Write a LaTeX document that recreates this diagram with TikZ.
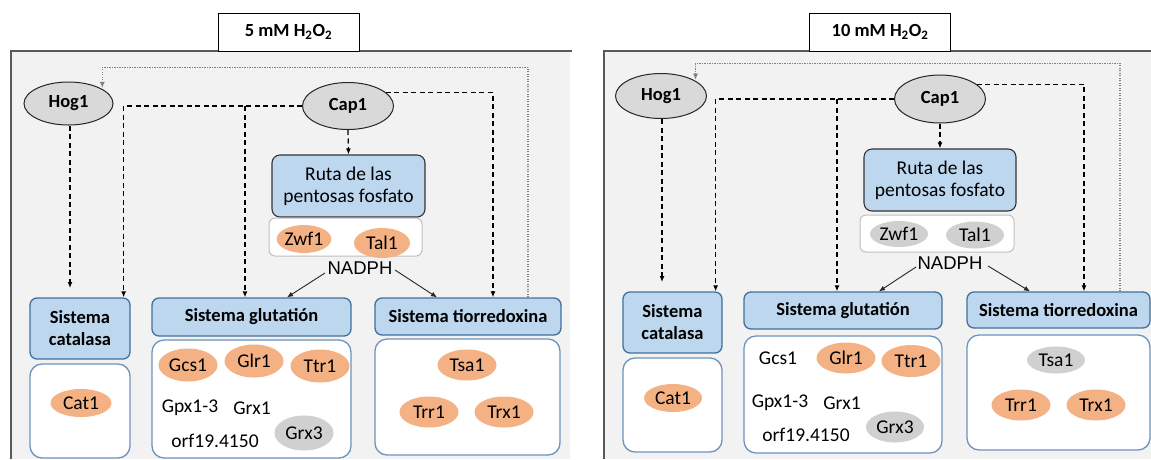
\documentclass[tikz,border=0pt]{standalone}
\usepackage{fontspec}
\setmainfont{Carlito}
\newfontfamily\arialf{Liberation Sans}
\usetikzlibrary{shapes.geometric,arrows.meta}
\definecolor{panelgray}{HTML}{F2F2F2}
\definecolor{panelline}{HTML}{595959}
\definecolor{bluefill}{HTML}{BDD7EE}
\definecolor{bluedark}{HTML}{41719C}
\definecolor{bluemid}{HTML}{6C93BD}
\definecolor{orangefill}{HTML}{F4B183}
\definecolor{reggray}{HTML}{D9D9D9}
\definecolor{genegray}{HTML}{D0D0D0}
\definecolor{boxgray}{HTML}{BFBFBF}
\definecolor{dotgray}{HTML}{808080}
\tikzset{
  basefont/.style={font=\fontsize{19.5}{22}\selectfont},
  boldfont/.style={font=\fontsize{18.5}{22}\selectfont\bfseries},
  titlebox/.style={draw=black, line width=1pt, fill=white, boldfont, minimum width=141pt, minimum height=38pt},
  reg/.style={ellipse, draw=black!85, line width=1pt, fill=reggray, boldfont, minimum width=90pt, minimum height=45pt},
  bluebox/.style={draw=bluedark, line width=1.3pt, fill=bluefill, rounded corners=7pt, boldfont, align=center},
  rutabox/.style={draw=black!80, line width=1.1pt, fill=bluefill, rounded corners=8pt, basefont, align=center},
  whitebox/.style={draw=bluemid, line width=1.3pt, fill=white, rounded corners=12pt},
  graybox/.style={draw=boxgray, line width=1pt, fill=white, rounded corners=6pt},
  ora/.style={ellipse, fill=orangefill, basefont, minimum width=59pt, minimum height=31pt},
  gry/.style={ellipse, fill=genegray, basefont, minimum width=58pt, minimum height=29pt},
  plain/.style={basefont},
  dasharr/.style={black, line width=1.2pt, dash pattern=on 5pt off 3.5pt, -{Latex[length=6pt,width=5pt]}},
  solarr/.style={black!85, line width=0.9pt, -{Latex[length=6pt,width=5pt]}},
  dotarr/.style={dotgray, line width=1.1pt, dash pattern=on 1.2pt off 1.3pt, -{Latex[length=6pt,width=5pt]}},
}
\begin{document}
\begin{tikzpicture}[x=1pt,y=-1pt, every node/.style={inner sep=0pt}]
\useasboundingbox (0,0) rectangle (1151,459);
% panels
\fill[panelgray] (11,51) rectangle (570,459);
\draw[panelline, line width=1.2pt] (11,459) -- (11,51) -- (572,51);
\fill[panelgray] (604,51) rectangle (1151,459);
\draw[panelline, line width=1.2pt] (604,459) -- (604,51) -- (1151,51);
\node[titlebox] (t1) at (288.5,32) {5 mM H\textsubscript{2}O\textsubscript{2}};
\node[titlebox] (t2) at (880,32) {10 mM H\textsubscript{2}O\textsubscript{2}};

% ===== left panel =====
\node[reg, minimum width=89pt, minimum height=43pt] (hogL) at (68.5,103.5) {Hog1};
\node[reg, minimum width=91pt, minimum height=47pt] (capL) at (348,106) {Cap1};
\node[rutabox, minimum width=153pt, minimum height=62pt] (rutaL) at (348.5,186) {Ruta de las\\pentosas fosfato};
\node[graybox, minimum width=153pt, minimum height=38pt] (pentL) at (345.5,237) {};
\node[ora, minimum width=50pt, minimum height=28pt] (zwfL) at (304,239) {Zwf1};
\node[ora, minimum width=56pt, minimum height=30pt] (talL) at (382,243) {Tal1};
\node[font=\arialf\fontsize{18.5}{22}\selectfont] (nadL) at (360,268) {NADPH};

\node[bluebox, minimum width=100pt, minimum height=61pt] (catBL) at (80,328.5) {Sistema\\catalasa};
\node[whitebox, minimum width=100pt, minimum height=94pt] (catWL) at (80,411) {};
\node[ora, minimum width=61pt, minimum height=28pt] (cat1L) at (81,403) {Cat1};

\node[bluebox, minimum width=199pt, minimum height=38pt] (gluBL) at (251.5,317) {Sistema glutatión};
\node[whitebox, minimum width=199pt, minimum height=118pt] (gluWL) at (251.5,399) {};
\node[ora, minimum height=33pt] (gcs1L) at (188,365) {Gcs1};
\node[ora, minimum height=33pt] (glr1L) at (254,361) {Glr1};
\node[ora, minimum height=33pt] (ttr1L) at (320,366) {Ttr1};
\node[plain] (gpxL) at (190,408) {Gpx1-3};
\node[plain] (grx1L) at (252,408) {Grx1};
\node[plain] (orfL) at (215,441) {orf19.4150};
\node[gry, minimum width=59pt, minimum height=35pt] (grx3L) at (304,433) {Grx3};

\node[bluebox, minimum width=186pt, minimum height=37pt] (tioBL) at (468,316.5) {Sistema tiorredoxina};
\node[whitebox, minimum width=185pt, minimum height=116pt] (tioWL) at (467.5,397) {};
\node[ora, minimum height=31pt] (tsa1L) at (467,365) {Tsa1};
\node[ora, minimum height=31pt] (trr1L) at (429,412) {Trr1};
\node[ora, minimum height=31pt] (trx1L) at (504,412) {Trx1};

% left connectors
\coordinate (hogEndL) at (70,288);
\draw[dasharr] (hogL.south -| hogEndL) -- (hogEndL);
\draw[dasharr] (capL.west) -| ([xshift=-7pt]catBL.north east);
\draw[dasharr] ([xshift=-6.5pt]gluBL.north |- capL.west) -- ([xshift=-6.5pt]gluBL.north);
\draw[dasharr] (capL.20) -| ([xshift=25pt]tioBL.north);
\draw[dasharr] (capL.south) -- (rutaL.north);
\draw[solarr] ([xshift=-35pt,yshift=-5pt]nadL.center) -- ([xshift=35.5pt]gluBL.north);
\draw[solarr] ([xshift=35pt,yshift=-2pt]nadL.center) -- ([xshift=-31pt]tioBL.north);
\draw[dotarr] ([xshift=60pt]tioBL.north) -- ++(0,-230) -| ([xshift=2pt]hogL.north east);

% ===== right panel =====
\node[reg, minimum width=91pt, minimum height=45pt] (hogR) at (661,96) {Hog1};
\node[reg, minimum width=91pt, minimum height=48pt] (capR) at (940,99) {Cap1};
\node[rutabox, minimum width=152pt, minimum height=62pt] (rutaR) at (940,180) {Ruta de las\\pentosas fosfato};
\node[graybox, minimum width=154pt, minimum height=37pt] (pentR) at (937,233.5) {};
\node[gry, minimum width=58pt, minimum height=26pt] (zwfR) at (899,234) {Zwf1};
\node[gry, minimum width=58pt, minimum height=27pt] (talR) at (975,235) {Tal1};
\node[font=\arialf\fontsize{18.5}{22}\selectfont] (nadR) at (950,263) {NADPH};

\node[bluebox, minimum width=99pt, minimum height=61pt] (catBR) at (672.5,322.5) {Sistema\\catalasa};
\node[whitebox, minimum width=99pt, minimum height=94pt] (catWR) at (672.5,405) {};
\node[ora, minimum width=58pt, minimum height=28pt] (cat1R) at (673,398) {Cat1};

\node[bluebox, minimum width=198pt, minimum height=37pt] (gluBR) at (843,310.5) {Sistema glutatión};
\node[whitebox, minimum width=198pt, minimum height=117pt] (gluWR) at (843,394.5) {};
\node[plain] (gcs1R) at (778,358) {Gcs1};
\node[ora, minimum height=31pt] (glr1R) at (846,358) {Glr1};
\node[ora, minimum height=32pt] (ttr1R) at (911,361) {Ttr1};
\node[plain] (gpxR) at (780,403) {Gpx1-3};
\node[plain] (grx1R) at (842,403) {Grx1};
\node[plain] (orfR) at (806,435) {orf19.4150};
\node[gry, minimum width=58pt, minimum height=31pt] (grx3R) at (895,427) {Grx3};

\node[bluebox, minimum width=183pt, minimum height=36pt] (tioBR) at (1058.5,310) {Sistema tiorredoxina};
\node[whitebox, minimum width=183pt, minimum height=115pt] (tioWR) at (1058.5,392.5) {};
\node[gry, minimum height=27pt] (tsa1R) at (1056,360) {Tsa1};
\node[ora, minimum height=31pt] (trr1R) at (1021,405) {Trr1};
\node[ora, minimum height=31pt] (trx1R) at (1096,405) {Trx1};

% right connectors
\coordinate (hogEndR) at (662,282);
\draw[dasharr] (hogR.south -| hogEndR) -- (hogEndR);
\draw[dasharr] (capR.west) -| ([xshift=-7pt]catBR.north east);
\draw[dasharr] ([xshift=-6pt]gluBR.north |- capR.west) -- ([xshift=-6pt]gluBR.north);
\draw[dasharr] (capR.22) -| ([xshift=25.5pt]tioBR.north);
\draw[dasharr] (capR.south) -- (rutaR.north);
\draw[solarr] ([xshift=-34pt,yshift=-4pt]nadR.center) -- ([xshift=36pt]gluBR.north);
\draw[solarr] ([xshift=38pt,yshift=-3pt]nadR.center) -- ([xshift=-28.5pt]tioBR.north);
\draw[dotarr] ([xshift=61.5pt]tioBR.north) -- ++(0,-228) -| ([xshift=2pt]hogR.north east);
\end{tikzpicture}
\end{document}
